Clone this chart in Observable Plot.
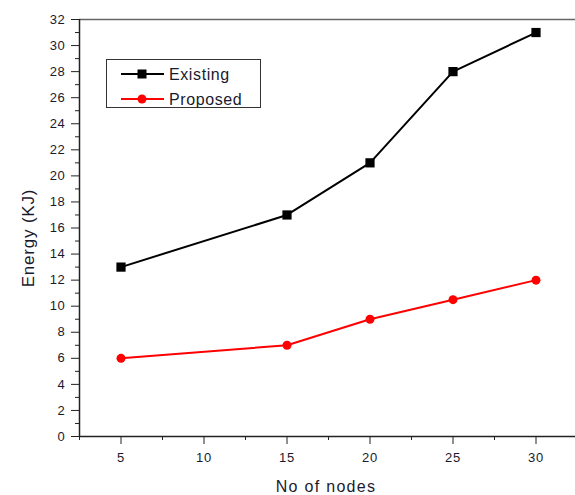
<!DOCTYPE html>
<html><head><meta charset="utf-8">
<script src="https://cdn.jsdelivr.net/npm/d3@7"></script>
<script src="https://cdn.jsdelivr.net/npm/@observablehq/plot@0.6"></script>
<style>
body{margin:0;background:#fff;font-family:"Liberation Sans",Arial,sans-serif;}
#wrap{position:relative;width:575px;height:495px;overflow:hidden;}
#legend{position:absolute;left:106px;top:59px;width:155px;height:49px;border:1px solid #333;background:#fff;box-sizing:border-box;}
#legend svg{position:absolute;left:0;top:0;}
</style></head><body><div id="wrap"></div>
<script>
const nodes = [5, 15, 20, 25, 30];
const existing = [13, 17, 21, 28, 31];
const proposed = [6, 7, 9, 10.5, 12];
const seriesNames = ["Existing", "Proposed"];
const seriesColors = ["#000000", "#ff0000"];
const xTicks = [5, 10, 15, 20, 25, 30];
const xMinorTicks = [2.5, 7.5, 12.5, 17.5, 22.5, 27.5, 32.5];
const yTicks = [0, 2, 4, 6, 8, 10, 12, 14, 16, 18, 20, 22, 24, 26, 28, 30, 32];
const yMinorTicks = [1, 3, 5, 7, 9, 11, 13, 15, 17, 19, 21, 23, 25, 27, 29, 31];
const xDomain = [2.5, 32.5];
const yDomain = [0, 32];

const rows = [];
nodes.forEach((n, i) => rows.push({x: n, y: existing[i], s: seriesNames[0]}));
nodes.forEach((n, i) => rows.push({x: n, y: proposed[i], s: seriesNames[1]}));
const ex = rows.filter(d => d.s === seriesNames[0]);
const pr = rows.filter(d => d.s === seriesNames[1]);

const chart = Plot.plot({
  width: 575, height: 495,
  marginLeft: 79, marginTop: 19, marginBottom: 59, marginRight: 0,
  style: {fontFamily: "Liberation Sans, Arial, sans-serif", fontSize: "13px", color: "#222", background: "#fff"},
  x: {domain: xDomain, range: [79, 577]},
  y: {domain: yDomain, range: [436, 19]},
  marks: [
    Plot.axisY({ticks: yTicks, tickSize: 8, tickPadding: 6, tickFormat: d => d, label: null, fontSize: 13, stroke: "#222", fill: "#1a1a2e"}),
    Plot.axisY({ticks: yMinorTicks, tickSize: 4, tickFormat: () => "", label: null, stroke: "#222"}),
    Plot.axisX({ticks: xTicks, tickSize: 8, tickPadding: 8, tickFormat: d => d, label: null, fontSize: 13, stroke: "#222", fill: "#1a1a2e"}),
    Plot.axisX({ticks: xMinorTicks, tickSize: 4, tickFormat: () => "", label: null, stroke: "#222"}),
    Plot.ruleY([yDomain[1]], {stroke: "#666", strokeWidth: 1.5}),
    Plot.ruleX([xDomain[0]], {stroke: "#222", strokeWidth: 1.5}),
    Plot.ruleY([yDomain[0]], {stroke: "#222", strokeWidth: 1.5}),
    Plot.line(ex, {x: "x", y: "y", stroke: seriesColors[0], strokeWidth: 2}),
    Plot.line(pr, {x: "x", y: "y", stroke: seriesColors[1], strokeWidth: 2}),
    Plot.dot(ex, {x: "x", y: "y", symbol: "square", r: 5.2, fill: seriesColors[0], stroke: null}),
    Plot.dot(pr, {x: "x", y: "y", symbol: "circle", r: 4.5, fill: seriesColors[1], stroke: null})
  ]
});
const wrap = document.getElementById("wrap");
wrap.appendChild(chart);

const svg = d3.select(chart);
svg.selectAll("g[aria-label='y-axis tick label'] text, g[aria-label='x-axis tick label'] text").attr("letter-spacing", "0.7px");
svg.append("text").attr("x", 326).attr("y", 492).attr("text-anchor", "middle")
  .attr("font-size", 16).attr("letter-spacing", "1.3px").attr("fill", "#1a1a2e").text("No of nodes");
svg.append("text").attr("transform", "translate(34,238) rotate(-90)").attr("text-anchor", "middle")
  .attr("font-size", 17).attr("letter-spacing", "0.8px").attr("fill", "#1a1a2e").text("Energy (KJ)");

// Legend
const leg = document.createElement("div");
leg.id = "legend";
wrap.appendChild(leg);
const ls = d3.select(leg).append("svg").attr("width", 155).attr("height", 49);
seriesNames.forEach((name, i) => {
  const cy = 14 + i * 25;
  ls.append("line").attr("x1", 14).attr("x2", 57).attr("y1", cy).attr("y2", cy)
    .attr("stroke", seriesColors[i]).attr("stroke-width", 2);
  if (i === 0) ls.append("rect").attr("x", 30.5).attr("y", cy - 4.5).attr("width", 9).attr("height", 9).attr("fill", seriesColors[i]);
  else ls.append("circle").attr("cx", 35).attr("cy", cy).attr("r", 4.5).attr("fill", seriesColors[i]);
  ls.append("text").attr("x", 62).attr("y", cy + 6).attr("font-size", 16).attr("letter-spacing", "0.6px").attr("fill", "#1a1a2e").text(name);
});
</script></body></html>
